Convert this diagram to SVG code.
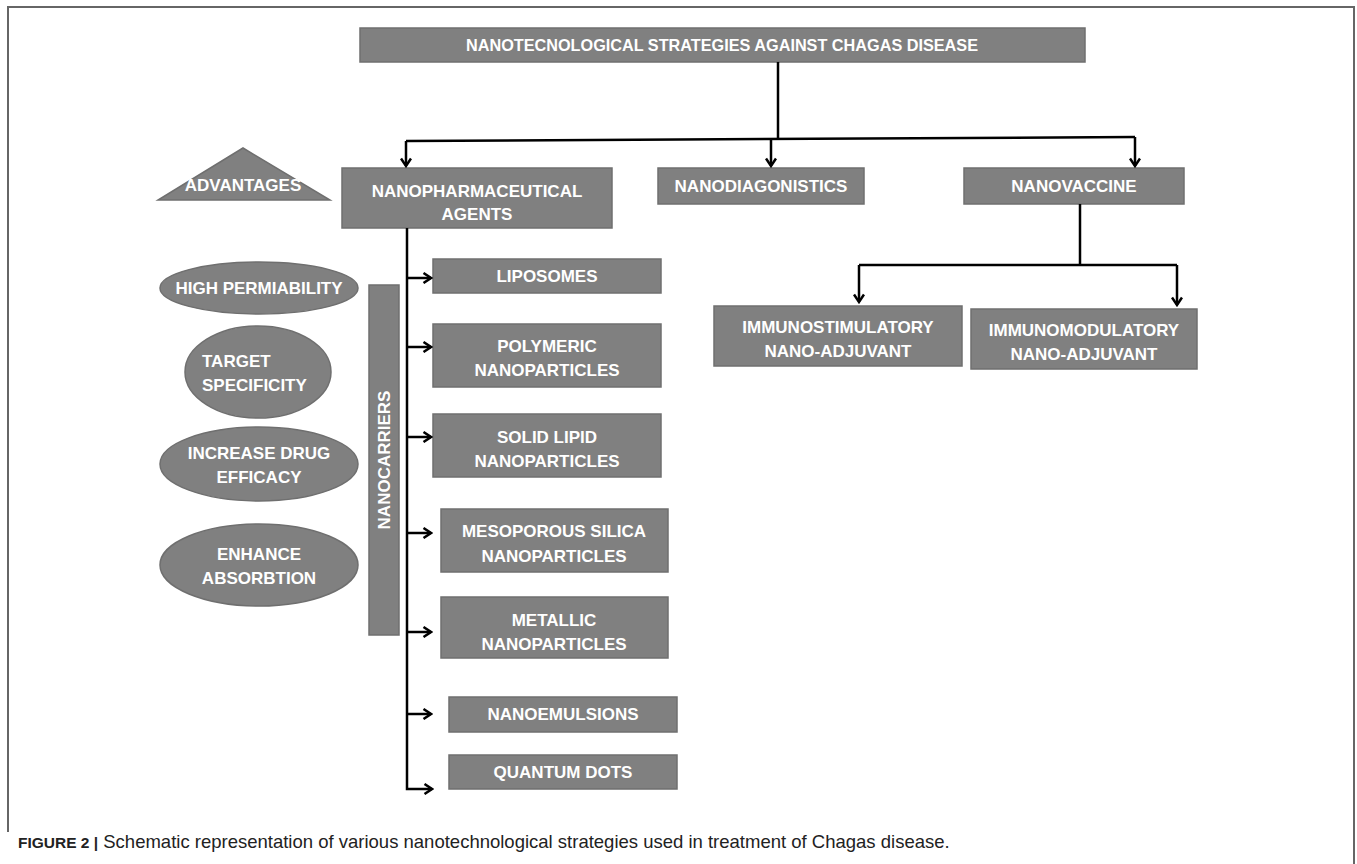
<svg xmlns="http://www.w3.org/2000/svg" width="1357" height="864" viewBox="0 0 1357 864">
<defs>
<style>
.box{fill:#808080;stroke:#6f6f6f;stroke-width:1.5}
.t{font-family:"Liberation Sans",Arial,sans-serif;font-weight:bold;font-size:17px;fill:#fff;text-anchor:middle}
.ts{text-anchor:start}
.ln{fill:none;stroke:#000;stroke-width:2.5}
.cap{font-family:"Liberation Sans",Arial,sans-serif;font-size:18.5px;fill:#222}
</style>
<marker id="ah" viewBox="0 0 12 12" refX="10.5" refY="6" markerWidth="12" markerHeight="12" markerUnits="userSpaceOnUse" orient="auto">
<path d="M3,1 L10.5,6 L3,11" fill="none" stroke="#000" stroke-width="2.5"/>
</marker>
</defs>
<rect width="1357" height="864" fill="#fff"/>
<path d="M8,832 V7 H1354 V864" fill="none" stroke="#666" stroke-width="2"/>

<g id="title"><rect class="box" x="360" y="28" width="725" height="34"/>
<text class="t" x="722" y="51" font-size="15" textLength="512" lengthAdjust="spacingAndGlyphs">NANOTECNOLOGICAL STRATEGIES AGAINST CHAGAS DISEASE</text></g>

<g id="advantages"><polygon class="box" points="243,148 330,200 158,200"/>
<text class="t" x="243" y="191">ADVANTAGES</text></g>

<g id="nanopharm"><rect class="box" x="342" y="168" width="270" height="60"/>
<text class="t" x="477" y="197">NANOPHARMACEUTICAL</text><text class="t" x="477" y="220">AGENTS</text></g>

<g id="nanodiag"><rect class="box" x="658" y="168" width="206" height="36"/>
<text class="t" x="761" y="192">NANODIAGONISTICS</text></g>

<g id="nanovaccine"><rect class="box" x="964" y="168" width="220" height="36"/>
<text class="t" x="1074" y="192">NANOVACCINE</text></g>

<g id="immunostim"><rect class="box" x="714" y="306" width="248" height="60"/>
<text class="t" x="838" y="333">IMMUNOSTIMULATORY</text><text class="t" x="838" y="357">NANO-ADJUVANT</text></g>

<g id="immunomod"><rect class="box" x="971" y="309" width="226" height="60"/>
<text class="t" x="1084" y="336">IMMUNOMODULATORY</text><text class="t" x="1084" y="360">NANO-ADJUVANT</text></g>

<g id="nanocarriers"><rect class="box" x="369" y="285" width="30" height="350"/>
<text class="t" x="384" y="460" transform="rotate(-90 384 460)" dominant-baseline="central">NANOCARRIERS</text></g>

<g id="high"><ellipse class="box" cx="259" cy="288" rx="99" ry="26"/>
<text class="t" x="259" y="294">HIGH PERMIABILITY</text></g>
<g id="target"><ellipse class="box" cx="258" cy="372" rx="73" ry="46"/>
<text class="t ts" x="202" y="367">TARGET</text><text class="t ts" x="202" y="391">SPECIFICITY</text></g>
<g id="increase"><ellipse class="box" cx="259" cy="464" rx="99" ry="37"/>
<text class="t" x="259" y="459">INCREASE DRUG</text><text class="t" x="259" y="483">EFFICACY</text></g>
<g id="enhance"><ellipse class="box" cx="259" cy="565" rx="99" ry="41"/>
<text class="t" x="259" y="560">ENHANCE</text><text class="t" x="259" y="584">ABSORBTION</text></g>

<g id="liposomes"><rect class="box" x="433" y="259" width="228" height="34"/>
<text class="t" x="547" y="282">LIPOSOMES</text></g>
<g id="polymeric"><rect class="box" x="433" y="324" width="228" height="63"/>
<text class="t" x="547" y="352">POLYMERIC</text><text class="t" x="547" y="376">NANOPARTICLES</text></g>
<g id="solidlipid"><rect class="box" x="433" y="414" width="228" height="63"/>
<text class="t" x="547" y="443">SOLID LIPID</text><text class="t" x="547" y="467">NANOPARTICLES</text></g>
<g id="mesoporous"><rect class="box" x="441" y="509" width="227" height="63"/>
<text class="t" x="554" y="537">MESOPOROUS SILICA</text><text class="t" x="554" y="562">NANOPARTICLES</text></g>
<g id="metallic"><rect class="box" x="441" y="597" width="227" height="61"/>
<text class="t" x="554" y="626">METALLIC</text><text class="t" x="554" y="650">NANOPARTICLES</text></g>
<g id="nanoemulsions"><rect class="box" x="449" y="697" width="228" height="35"/>
<text class="t" x="563" y="720">NANOEMULSIONS</text></g>
<g id="quantum"><rect class="box" x="449" y="755" width="228" height="34"/>
<text class="t" x="563" y="778">QUANTUM DOTS</text></g>

<g id="connectors">
<path class="ln" d="M778,62 V140"/>
<path class="ln" d="M406,141 L1135,137"/>
<path class="ln" d="M406,141 V166" marker-end="url(#ah)"/>
<path class="ln" d="M771,138 V166" marker-end="url(#ah)"/>
<path class="ln" d="M1135,137 V166" marker-end="url(#ah)"/>
<path class="ln" d="M1080,204 V265"/>
<path class="ln" d="M859,265 H1177"/>
<path class="ln" d="M859,265 V302" marker-end="url(#ah)"/>
<path class="ln" d="M1177,265 V305" marker-end="url(#ah)"/>
<path class="ln" d="M407,228 V789 H432" marker-end="url(#ah)"/>
<path class="ln" d="M407,278 H431" marker-end="url(#ah)"/>
<path class="ln" d="M407,347 H431" marker-end="url(#ah)"/>
<path class="ln" d="M407,437 H431" marker-end="url(#ah)"/>
<path class="ln" d="M407,533 H431" marker-end="url(#ah)"/>
<path class="ln" d="M407,632 H431" marker-end="url(#ah)"/>
<path class="ln" d="M407,714 H431" marker-end="url(#ah)"/>
</g>

<text class="cap" x="18" y="848"><tspan font-weight="bold" font-size="15.5">FIGURE 2 |</tspan> Schematic representation of various nanotechnological strategies used in treatment of Chagas disease.</text>
</svg>
